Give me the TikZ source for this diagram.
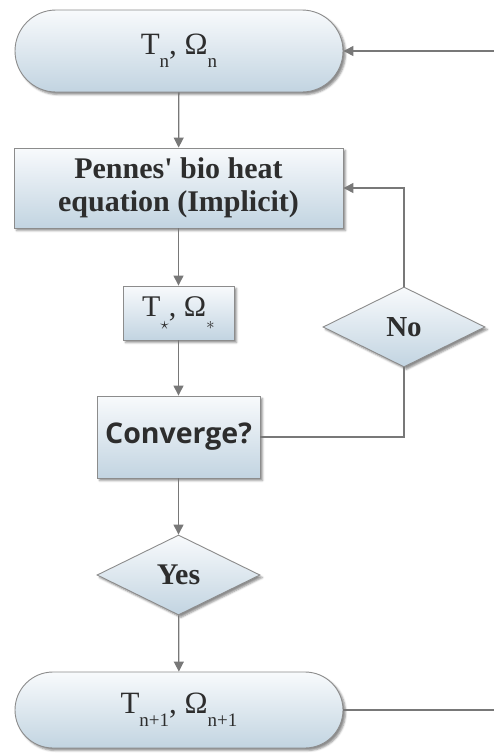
\documentclass[tikz,border=0pt]{standalone}
\usepackage{fontspec}
\setmainfont{Liberation Serif}
\newfontfamily\convfont{Open Sans}
\usetikzlibrary{shapes.geometric,shapes.misc,arrows.meta,shadows.blur}
\definecolor{lnc}{RGB}{120,120,120}
\definecolor{bdc}{RGB}{140,140,140}
\definecolor{topc}{RGB}{248,250,252}
\definecolor{botc}{RGB}{194,212,225}
\definecolor{txc}{RGB}{45,45,45}
\newcommand{\lowsub}[1]{\raisebox{-0.42em}{\fontsize{19}{19}\selectfont #1}}
\begin{document}
\begin{tikzpicture}[x=1pt,y=-1pt,
  base/.style={draw=bdc, line width=0.9pt, top color=topc, bottom color=botc,
    blur shadow={shadow xshift=2.5pt, shadow yshift=-2.5pt, shadow blur radius=2pt, shadow opacity=45},
    text=txc, inner sep=0pt, align=center, font=\fontsize{31}{33}\selectfont},
  term/.style={base, rounded rectangle, minimum width=328pt},
  stepbox/.style={base, rectangle},
  decide/.style={base, diamond},
  conn/.style={draw=lnc, line width=1.3pt, -{Triangle[length=10pt,width=10pt]}},
  plain/.style={draw=lnc, line width=1.3pt}]
\useasboundingbox (0,0) rectangle (494,756);
\node[term, minimum height=82pt] (top) at (179,51) {T\lowsub{n}, Ω\lowsub{n}};
\node[stepbox, minimum width=329pt, minimum height=80pt, font=\fontsize{30}{33}\selectfont\bfseries] (pen) at (178.5,188) {Pennes\textquotesingle\ bio heat\\equation (Implicit)};
\node[stepbox, minimum width=111pt, minimum height=54pt, font=\fontsize{30}{33}\selectfont] (ts) at (178.5,313) {T\lowsub{$\star$}, Ω\lowsub{$\ast$}};
\node[stepbox, minimum width=163pt, minimum height=82pt, font=\fontsize{28.5}{33}\convfont\bfseries] (conv) at (178.5,437) {Converge?};
\node[decide, minimum width=162pt, minimum height=80pt, font=\fontsize{29}{33}\selectfont\bfseries] (no) at (404,327) {No};
\node[decide, minimum width=163pt, minimum height=80pt, font=\fontsize{30}{33}\selectfont\bfseries] (yes) at (178.5,575) {Yes};
\node[term, minimum height=76pt] (bot) at (179,710) {T\lowsub{n+1}, Ω\lowsub{n+1}};
\coordinate (inR) at (494,51);
\coordinate (outR) at (494,710);
\draw[conn] (top) -- (pen);
\draw[conn] (pen) -- (ts);
\draw[conn] (ts) -- (conv);
\draw[conn] (conv) -- (yes);
\draw[conn] (yes) -- (bot);
\draw[plain] (conv.east) -| (no.south);
\draw[conn] (no.north) |- (pen.east);
\draw[conn] (inR) -- (top.east);
\draw[plain] (bot.east) -- (outR);
\end{tikzpicture}
\end{document}
